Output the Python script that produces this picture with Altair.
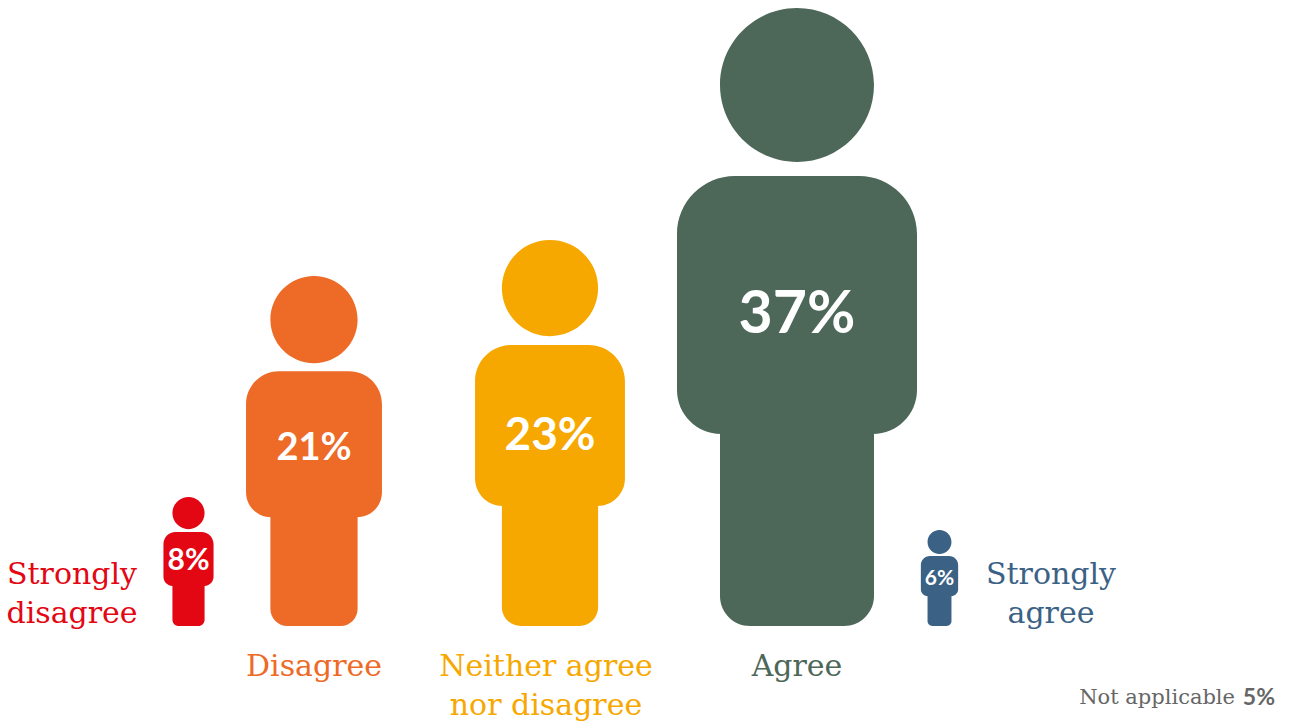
import altair as alt
import pandas as pd

# Survey responses, in the order the figures stand on the page
categories = ["Strongly disagree", "Disagree", "Neither agree nor disagree", "Agree", "Strongly agree"]
shares = [8, 21, 23, 37, 6]
label_lines = ["Strongly\ndisagree", "Disagree", "Neither agree\nnor disagree", "Agree", "Strongly\nagree"]
not_applicable_label = "Not applicable"
not_applicable_share = 5

PALETTE = ["#E30613", "#EE6A27", "#F7A800", "#4D6759", "#3B6285"]
FIGURE_X = [188.5, 314, 550, 797, 939.5]
FIGURE_HEIGHT = [129, 350, 386, 618, 96]
LABEL_X = [72, 314, 546, 797, 1051]
LABEL_Y = [560, 652, 652, 652, 560]
PERCENT_SIZE = [30, 38, 46, 59, 21]
RANKS = list(range(len(categories)))


def person_path():
    """Figure glyph with its feet on y=0; total height is 2 units, as Vega's custom symbols scale by sqrt(size)/2."""
    k = 2 / 618
    def p(x, y):
        return f"{x * k:.5f},{y * k:.5f}"
    def r(v):
        return f"{v * k:.5f}"
    head_r = 77
    head_y = -541
    parts = [
        f"M{p(-head_r, head_y)}",
        f"A{r(head_r)},{r(head_r)} 0 1 1 {p(head_r, head_y)}",
        f"A{r(head_r)},{r(head_r)} 0 1 1 {p(-head_r, head_y)}Z",
    ]
    top, bottom, half, leg, rt, rb, rf = -450, -192, 120, 77, 58, 44, 30
    kappa = 0.5523
    def corner(x1, y1, cx0, cy0, cx1, cy1):
        return f"C{p(cx0, cy0)} {p(cx1, cy1)} {p(x1, y1)}"
    parts += [
        f"M{p(-half + rt, top)}",
        f"L{p(half - rt, top)}",
        corner(half, top + rt, half - rt + rt * kappa, top, half, top + rt - rt * kappa),
        f"L{p(half, bottom - rb)}",
        corner(half - rb, bottom, half, bottom - rb + rb * kappa, half - rb + rb * kappa, bottom),
        f"L{p(leg, bottom)}",
        f"L{p(leg, -rf)}",
        corner(leg - rf, 0, leg, -rf + rf * kappa, leg - rf + rf * kappa, 0),
        f"L{p(-leg + rf, 0)}",
        corner(-leg, -rf, -leg + rf - rf * kappa, 0, -leg, -rf + rf * kappa),
        f"L{p(-leg, bottom)}",
        f"L{p(-half + rb, bottom)}",
        corner(-half, bottom - rb, -half + rb - rb * kappa, bottom, -half, bottom - rb + rb * kappa),
        f"L{p(-half, top + rt)}",
        corner(-half + rt, top, -half, top + rt - rt * kappa, -half + rt - rt * kappa, top),
        "Z",
    ]
    return "".join(parts)


df = pd.DataFrame({"category": categories, "rank": RANKS, "share": shares, "lines": label_lines})
df["percent"] = df["share"].astype(str) + "%"

x_fig = alt.X("rank:Q", axis=None, scale=alt.Scale(domain=RANKS, range=FIGURE_X))
color = alt.Color("category:N", legend=None, scale=alt.Scale(domain=categories, range=PALETTE))
y_scale = alt.Scale(domain=[0, 37], range=[626, 8])

# Glyph area grows with the square of its height; anchors sorted by share
size_pairs = sorted(zip(shares, FIGURE_HEIGHT))
size_scale = alt.Scale(domain=[s for s, _ in size_pairs], range=[h ** 2 for _, h in size_pairs])

figures = (
    alt.Chart(df)
    .transform_calculate(base="0")
    .mark_point(shape=person_path(), filled=True, opacity=1, strokeWidth=0)
    .encode(
        x=x_fig,
        y=alt.Y("base:Q", axis=None, scale=y_scale),
        size=alt.Size("share:Q", legend=None, scale=size_scale),
        color=color,
    )
)

percents = (
    alt.Chart(df)
    .transform_calculate(mid="datum.share * 0.505 - [0.12, 0, 0.24, 0.06, 0.24][datum.rank]")
    .mark_text(font="Lato", fontWeight=700, color="white", baseline="middle", align="center")
    .encode(
        x=x_fig,
        y=alt.Y("mid:Q", axis=None, scale=y_scale),
        text="percent:N",
        size=alt.Size("rank:Q", legend=None, scale=alt.Scale(domain=RANKS, range=PERCENT_SIZE)),
    )
)

labels = (
    alt.Chart(df)
    .mark_text(font="DejaVu Serif", fontSize=30, lineBreak="\n", lineHeight=39, baseline="top", align="center")
    .encode(
        x=alt.X("rank:Q", axis=None, scale=alt.Scale(domain=RANKS, range=LABEL_X)),
        y=alt.Y("rank:Q", axis=None, scale=alt.Scale(domain=RANKS, range=LABEL_Y)),
        text="lines:N",
        color=color,
    )
)

note = pd.DataFrame({"label": [not_applicable_label], "value": [f"{not_applicable_share}%"]})
note_label = (
    alt.Chart(note)
    .mark_text(font="DejaVu Serif", fontSize=21, color="#666666", align="right", baseline="middle")
    .encode(x=alt.value(1235), y=alt.value(698), text="label:N")
)
note_value = (
    alt.Chart(note)
    .mark_text(font="Lato", fontWeight=700, fontSize=23, color="#666666", align="right", baseline="middle")
    .encode(x=alt.value(1275), y=alt.value(698), text="value:N")
)

chart = (
    alt.layer(figures, percents, labels, note_label, note_value)
    .resolve_scale(x="independent", y="independent", size="independent")
    .properties(width=1290, height=724, padding=0, autosize=alt.AutoSizeParams(type="none"))
    .configure_view(stroke=None)
)

chart.save("out.html", embed_options={"renderer": "svg", "actions": False})
